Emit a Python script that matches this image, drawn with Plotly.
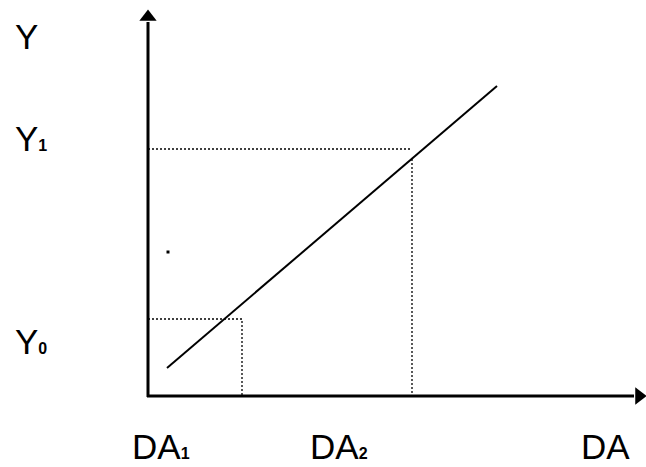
import plotly.graph_objects as go

# Conceptual data (origin at the corner of the axes)
axis_x_end = 498          # x-axis arrow tip
axis_y_end = 386          # y-axis arrow tip
line_x = [19, 349]
line_y = [28, 310]
y0_level = 77
y1_level = 247
da1 = 94
da2 = 264
da2_top = 237
y1_right = 262
dot_x = [20]
dot_y = [144]

sub = "<span style='font-size:16px'><b>{}</b></span>"
y_labels = ["Y", "Y" + sub.format("1"), "Y" + sub.format("0")]
y_label_pos = [360, 258, 55]
x_labels = ["DA" + sub.format("1"), "DA" + sub.format("2"), "DA"]
x_label_pos = [13, 191, 457]

fig = go.Figure()

# axes
fig.add_trace(go.Scatter(x=[0, 0], y=[-1, axis_y_end - 12], mode="lines",
                         line=dict(color="black", width=3), hoverinfo="skip"))
fig.add_trace(go.Scatter(x=[-1, axis_x_end - 12], y=[0, 0], mode="lines",
                         line=dict(color="black", width=3), hoverinfo="skip"))
fig.add_trace(go.Scatter(x=[0], y=[axis_y_end - 7], mode="markers",
                         marker=dict(symbol="triangle-up", size=15, color="black"),
                         cliponaxis=False, hoverinfo="skip"))
fig.add_trace(go.Scatter(x=[axis_x_end - 7], y=[0], mode="markers",
                         marker=dict(symbol="triangle-right", size=15, color="black"),
                         cliponaxis=False, hoverinfo="skip"))

# dotted guides
dot_style = dict(color="black", width=1.3, dash="2px,2px")
fig.add_trace(go.Scatter(x=[0, da1, da1], y=[y0_level, y0_level, 0], mode="lines",
                         line=dot_style, hoverinfo="skip"))
fig.add_trace(go.Scatter(x=[0, y1_right], y=[y1_level, y1_level], mode="lines",
                         line=dot_style, hoverinfo="skip"))
fig.add_trace(go.Scatter(x=[da2, da2], y=[da2_top, 0], mode="lines",
                         line=dot_style, hoverinfo="skip"))

# main line
fig.add_trace(go.Scatter(x=line_x, y=line_y, mode="lines",
                         line=dict(color="black", width=2), hoverinfo="skip"))

# stray dot
fig.add_trace(go.Scatter(x=dot_x, y=dot_y, mode="markers",
                         marker=dict(symbol="square", size=3, color="black"),
                         hoverinfo="skip"))

annotations = []
for t, yv in zip(y_labels, y_label_pos):
    annotations.append(dict(x=-148, y=yv, xref="x", yref="y", text=t, showarrow=False,
                            xanchor="left", yanchor="middle",
                            xshift=13,
                            font=dict(family="Liberation Sans, Arial", size=35, color="black")))
for t, xv in zip(x_labels, x_label_pos):
    annotations.append(dict(x=xv, y=-50, xref="x", yref="y", text=t, showarrow=False,
                            xanchor="center", yanchor="middle",
                            font=dict(family="Liberation Sans, Arial", size=35, color="black")))

fig.update_layout(
    width=646, height=467,
    margin=dict(l=0, r=0, t=0, b=0),
    paper_bgcolor="white", plot_bgcolor="white",
    showlegend=False,
    xaxis=dict(range=[-148, 498], visible=False, fixedrange=True),
    yaxis=dict(range=[-71, 396], visible=False, fixedrange=True),
    annotations=annotations,
)

fig.write_html(
    "out.html",
    config={"displayModeBar": False},
    post_script="document.body.style.margin='0';document.body.style.overflow='hidden';",
)
